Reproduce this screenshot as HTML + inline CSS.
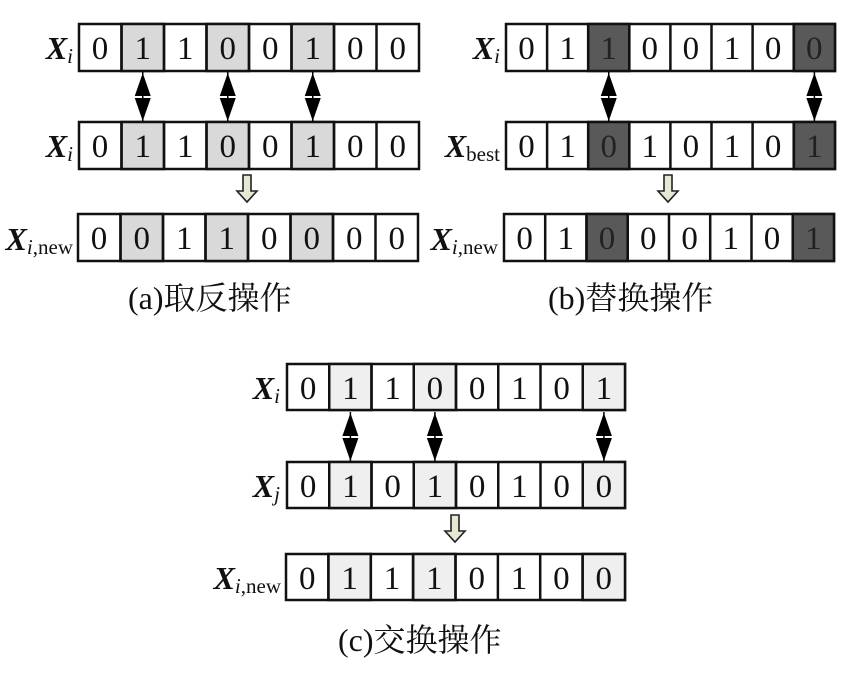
<!DOCTYPE html>
<html><head><meta charset="utf-8"><style>
html,body{margin:0;padding:0;background:#fff;}
svg{display:block;}
</style></head><body>
<svg width="843" height="680" viewBox="0 0 843 680" xmlns="http://www.w3.org/2000/svg">
<defs>
<g id="dbl"><polygon points="0,1 -8,24 8,24" fill="#000"/><polygon points="-8,26 8,26 0,49" fill="#000"/><line x1="0" y1="0" x2="0" y2="50" stroke="#000" stroke-width="1.5"/></g>
<g id="dn"><polygon points="-4,0 4,0 4,16 10,16 0,27 -10,16 -4,16" fill="#e6e8d4" stroke="#222" stroke-width="1.6"/></g>
</defs>
<g stroke="#111" stroke-width="2.5">
<rect x="79" y="24" width="340" height="47" fill="#fff"/>
<rect x="121.5" y="24" width="42.5" height="47" fill="#d9d9d9"/><rect x="206.5" y="24" width="42.5" height="47" fill="#d9d9d9"/><rect x="291.5" y="24" width="42.5" height="47" fill="#d9d9d9"/>
<path d="M121.5 24V71M164 24V71M206.5 24V71M249 24V71M291.5 24V71M334 24V71M376.5 24V71"/>
<rect x="79" y="122" width="340" height="47" fill="#fff"/>
<rect x="121.5" y="122" width="42.5" height="47" fill="#d9d9d9"/><rect x="206.5" y="122" width="42.5" height="47" fill="#d9d9d9"/><rect x="291.5" y="122" width="42.5" height="47" fill="#d9d9d9"/>
<path d="M121.5 122V169M164 122V169M206.5 122V169M249 122V169M291.5 122V169M334 122V169M376.5 122V169"/>
<rect x="78" y="214" width="340" height="47" fill="#fff"/>
<rect x="120.5" y="214" width="42.5" height="47" fill="#d9d9d9"/><rect x="205.5" y="214" width="42.5" height="47" fill="#d9d9d9"/><rect x="290.5" y="214" width="42.5" height="47" fill="#d9d9d9"/>
<path d="M120.5 214V261M163 214V261M205.5 214V261M248 214V261M290.5 214V261M333 214V261M375.5 214V261"/>
<rect x="506" y="24" width="329" height="47" fill="#fff"/>
<rect x="588.2" y="24" width="41.1" height="47" fill="#595959"/><rect x="793.9" y="24" width="41.1" height="47" fill="#595959"/>
<path d="M547.1 24V71M588.2 24V71M629.3 24V71M670.4 24V71M711.5 24V71M752.6 24V71M793.7 24V71"/>
<rect x="506" y="122" width="329" height="47" fill="#fff"/>
<rect x="588.2" y="122" width="41.1" height="47" fill="#595959"/><rect x="793.9" y="122" width="41.1" height="47" fill="#595959"/>
<path d="M547.1 122V169M588.2 122V169M629.3 122V169M670.4 122V169M711.5 122V169M752.6 122V169M793.7 122V169"/>
<rect x="504" y="214" width="330" height="47" fill="#fff"/>
<rect x="586.5" y="214" width="41.2" height="47" fill="#595959"/><rect x="792.8" y="214" width="41.2" height="47" fill="#595959"/>
<path d="M545.2 214V261M586.5 214V261M627.7 214V261M669 214V261M710.2 214V261M751.5 214V261M792.7 214V261"/>
<rect x="287" y="364" width="338" height="46" fill="#fff"/>
<rect x="329.25" y="364" width="42.25" height="46" fill="#efefef"/><rect x="413.75" y="364" width="42.25" height="46" fill="#efefef"/><rect x="582.75" y="364" width="42.25" height="46" fill="#efefef"/>
<path d="M329.25 364V410M371.5 364V410M413.75 364V410M456 364V410M498.25 364V410M540.5 364V410M582.75 364V410"/>
<rect x="287" y="462" width="338" height="46" fill="#fff"/>
<rect x="329.25" y="462" width="42.25" height="46" fill="#efefef"/><rect x="413.75" y="462" width="42.25" height="46" fill="#efefef"/><rect x="582.75" y="462" width="42.25" height="46" fill="#efefef"/>
<path d="M329.25 462V508M371.5 462V508M413.75 462V508M456 462V508M498.25 462V508M540.5 462V508M582.75 462V508"/>
<rect x="286" y="554" width="339" height="46" fill="#fff"/>
<rect x="328.4" y="554" width="42.4" height="46" fill="#efefef"/><rect x="413.1" y="554" width="42.4" height="46" fill="#efefef"/><rect x="582.6" y="554" width="42.4" height="46" fill="#efefef"/>
<path d="M328.4 554V600M370.8 554V600M413.1 554V600M455.5 554V600M497.9 554V600M540.2 554V600M582.6 554V600"/>
</g>
<use href="#dbl" x="142.75" y="72"/><use href="#dbl" x="227.75" y="72"/><use href="#dbl" x="312.75" y="72"/>
<use href="#dbl" x="608.75" y="72"/><use href="#dbl" x="814.4" y="72"/>
<use href="#dbl" x="350.4" y="412"/><use href="#dbl" x="434.9" y="412"/><use href="#dbl" x="603.9" y="412"/>
<use href="#dn" x="247" y="175"/><use href="#dn" x="668" y="175"/><use href="#dn" x="455" y="515"/>
<g font-family="'Liberation Serif', 'DejaVu Serif', serif" font-size="33" text-anchor="middle" fill="#111">
<text x="100" y="59">0</text><text x="142.75" y="59">1</text><text x="185.25" y="59">1</text><text x="227.75" y="59">0</text><text x="270.25" y="59">0</text><text x="312.75" y="59">1</text><text x="355.25" y="59">0</text><text x="397.75" y="59">0</text>
<text x="100" y="157">0</text><text x="142.75" y="157">1</text><text x="185.25" y="157">1</text><text x="227.75" y="157">0</text><text x="270.25" y="157">0</text><text x="312.75" y="157">1</text><text x="355.25" y="157">0</text><text x="397.75" y="157">0</text>
<text x="99" y="249">0</text><text x="141.75" y="249">0</text><text x="184.25" y="249">1</text><text x="226.75" y="249">1</text><text x="269.25" y="249">0</text><text x="311.75" y="249">0</text><text x="354.25" y="249">0</text><text x="396.75" y="249">0</text>
<text x="526.5" y="59">0</text><text x="567.6" y="59">1</text><text x="608.7" y="59" fill="#222">1</text><text x="649.8" y="59">0</text><text x="690.9" y="59">0</text><text x="732" y="59">1</text><text x="773.1" y="59">0</text><text x="814.3" y="59" fill="#222">0</text>
<text x="526.5" y="157">0</text><text x="567.6" y="157">1</text><text x="608.7" y="157" fill="#222">0</text><text x="649.8" y="157">1</text><text x="690.9" y="157">0</text><text x="732" y="157">1</text><text x="773.1" y="157">0</text><text x="814.3" y="157" fill="#222">1</text>
<text x="524.6" y="249">0</text><text x="565.8" y="249">1</text><text x="607" y="249" fill="#222">0</text><text x="648.3" y="249">0</text><text x="689.6" y="249">0</text><text x="730.8" y="249">1</text><text x="772" y="249">0</text><text x="813.4" y="249" fill="#222">1</text>
<text x="308.1" y="399">0</text><text x="350.4" y="399">1</text><text x="392.6" y="399">1</text><text x="434.9" y="399">0</text><text x="477.1" y="399">0</text><text x="519.4" y="399">1</text><text x="561.6" y="399">0</text><text x="603.9" y="399">1</text>
<text x="308.1" y="497">0</text><text x="350.4" y="497">1</text><text x="392.6" y="497">0</text><text x="434.9" y="497">1</text><text x="477.1" y="497">0</text><text x="519.4" y="497">1</text><text x="561.6" y="497">0</text><text x="603.9" y="497">0</text>
<text x="307.2" y="589">0</text><text x="349.6" y="589">1</text><text x="392" y="589">1</text><text x="434.3" y="589">1</text><text x="476.7" y="589">0</text><text x="519" y="589">1</text><text x="561.4" y="589">0</text><text x="603.8" y="589">0</text>
</g>
<g font-family="'Liberation Serif', 'DejaVu Serif', serif" font-size="32" font-weight="bold" font-style="italic" fill="#111" text-anchor="end">
<text x="73" y="59">X<tspan font-size="21" font-weight="normal" dy="4">i</tspan></text>
<text x="73" y="157">X<tspan font-size="21" font-weight="normal" dy="4">i</tspan></text>
<text x="73" y="250">X<tspan font-size="21" font-weight="normal" dy="4">i</tspan><tspan font-size="21" font-weight="normal" font-style="normal">,new</tspan></text>
<text x="500" y="59">X<tspan font-size="21" font-weight="normal" dy="4">i</tspan></text>
<text x="500" y="157">X<tspan font-size="21" font-weight="normal" font-style="normal" dy="4">best</tspan></text>
<text x="498" y="250">X<tspan font-size="21" font-weight="normal" dy="4">i</tspan><tspan font-size="21" font-weight="normal" font-style="normal">,new</tspan></text>
<text x="280" y="399">X<tspan font-size="21" font-weight="normal" dy="4">i</tspan></text>
<text x="280" y="497">X<tspan font-size="21" font-weight="normal" dy="4">j</tspan></text>
<text x="281" y="589">X<tspan font-size="21" font-weight="normal" dy="4">i</tspan><tspan font-size="21" font-weight="normal" font-style="normal">,new</tspan></text>
</g>
<g font-size="32" fill="#111">
<text x="128" y="309"><tspan font-family="'Liberation Serif', serif">(a)</tspan><tspan font-family="'Noto Serif CJK SC', serif">取反操作</tspan></text>
<text x="548" y="309"><tspan font-family="'Liberation Serif', serif">(b)</tspan><tspan font-family="'Noto Serif CJK SC', serif">替换操作</tspan></text>
<text x="338" y="651"><tspan font-family="'Liberation Serif', serif">(c)</tspan><tspan font-family="'Noto Serif CJK SC', serif">交换操作</tspan></text>
</g>
</svg>
</body></html>
